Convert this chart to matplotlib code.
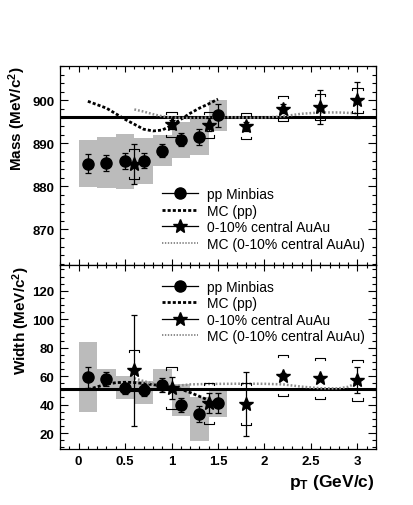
import matplotlib
matplotlib.use('Agg')
import matplotlib.pyplot as plt
import numpy as np
from matplotlib.lines import Line2D
from matplotlib.ticker import MultipleLocator, FuncFormatter

plt.rcParams['font.family'] = ['Liberation Sans', 'DejaVu Sans']
plt.rcParams['font.weight'] = 'bold'
plt.rcParams['mathtext.fontset'] = 'custom'
plt.rcParams['mathtext.rm'] = 'Liberation Sans:bold'
plt.rcParams['mathtext.it'] = 'Liberation Sans:bold'
plt.rcParams['mathtext.bf'] = 'Liberation Sans:bold'
plt.rcParams['mathtext.default'] = 'rm'

# ---------------- data ----------------
pp_pt = [0.1, 0.3, 0.5, 0.7, 0.9, 1.1, 1.3, 1.5]
pp_bin_lo = [0.0, 0.2, 0.4, 0.6, 0.8, 1.0, 1.2, 1.4]
pp_bin_hi = [0.2, 0.4, 0.6, 0.8, 1.0, 1.2, 1.4, 1.6]

pp_mass = [885.3, 885.5, 885.9, 886.0, 888.3, 890.9, 891.5, 896.5]
pp_mass_stat = [2.2, 1.8, 1.8, 1.8, 1.5, 1.5, 1.8, 2.6]
pp_mass_sys_lo = [879.9, 879.7, 879.5, 880.5, 884.7, 886.7, 887.4, 892.9]
pp_mass_sys_hi = [890.9, 891.5, 892.1, 891.2, 891.9, 894.9, 895.6, 900.2]

pp_width = [59.1, 57.9, 51.4, 50.2, 53.9, 39.9, 33.4, 40.9]
pp_width_stat = [7.4, 5.0, 4.0, 4.0, 5.0, 5.0, 5.3, 7.0]
pp_width_sys_lo = [34.5, 50.8, 43.9, 40.4, 49.7, 32.2, 14.6, 31.0]
pp_width_sys_hi = [84.2, 65.0, 59.8, 56.8, 65.0, 54.4, 45.1, 50.9]

au_pt = [0.6, 1.0, 1.4, 1.8, 2.2, 2.6, 3.0]
au_mass = [885.2, 894.4, 894.3, 894.0, 898.1, 898.5, 900.0]
au_mass_stat = [4.7, 1.0, 1.5, 1.0, 1.0, 4.0, 4.2]
au_mass_sys = [3.5, 3.0, 3.0, 3.0, 3.0, 3.0, 3.0]

au_width = [64.0, 51.6, 40.9, 40.4, 60.3, 58.4, 57.2]
au_width_stat = [39.0, 8.0, 7.0, 22.5, 2.0, 2.0, 9.0]
au_width_sys = [14.5, 14.5, 14.5, 14.7, 14.5, 14.4, 14.4]

mc_pp_mass_pt = [0.1, 0.3, 0.5, 0.7, 0.8, 0.9, 1.0, 1.1, 1.2, 1.3, 1.4, 1.5]
mc_pp_mass = [899.8, 898.2, 895.6, 893.3, 892.9, 893.1, 894.2, 895.6, 897.0, 898.2, 899.2, 900.3]

mc_au_mass_pt = [0.6, 0.7, 0.8, 0.9, 1.0, 1.2, 1.4, 1.6, 1.8, 2.0, 2.2, 2.4, 2.6, 2.8, 3.0]
mc_au_mass = [897.9, 897.4, 896.8, 896.3, 896.0, 895.9, 896.0, 896.1, 896.0, 896.0, 896.3, 896.9, 897.2, 897.2, 897.0]

mc_pp_width_pt = [0.1, 0.2, 0.3, 0.4, 0.5, 0.6, 0.7, 0.8, 0.9, 1.0, 1.1, 1.2, 1.3, 1.4, 1.45]
mc_pp_width = [50.5, 52.5, 54.3, 55.4, 55.7, 55.5, 54.8, 54.0, 53.2, 52.3, 50.8, 48.5, 45.8, 43.0, 41.5]

mc_au_width_pt = [0.6, 0.7, 0.8, 0.9, 1.0, 1.1, 1.2, 1.4, 1.6, 1.8, 2.0, 2.2, 2.4, 2.6, 2.8, 2.9, 3.0]
mc_au_width = [58.5, 56.5, 54.8, 53.5, 52.5, 53.5, 54.2, 54.5, 54.6, 54.7, 54.6, 54.2, 52.6, 51.5, 51.4, 52.5, 55.5]

pdg_mass = 896.1
pdg_width = 50.7

legend_labels = ['pp Minbias', 'MC (pp)', '0-10% central AuAu', 'MC (0-10% central AuAu)']

# ---------------- style ----------------
GRAY_BOX = '#bbbbbb'
MC_AU_COLOR = '#8c8c8c'
DASH = (0, (1.1, 0.75))
DOT = (0, (0.7, 0.8))
STAR_MS = 10.5

W, H = 414, 506
fig = plt.figure(figsize=(W / 100, H / 100), dpi=100)
left, right = 60, 376
top1, mid, bot2 = 67, 265.7, 450
ax1 = fig.add_axes([left / W, 1 - mid / H, (right - left) / W, (mid - top1) / H])
ax2 = fig.add_axes([left / W, 1 - bot2 / H, (right - left) / W, (bot2 - mid) / H])


def draw_panel(ax, pp_y, pp_stat, sys_lo, sys_hi, au_y, au_stat, au_sys,
               mc_pp_x, mc_pp_y, mc_au_x, mc_au_y, ref, ylim):
    ax.set_xlim(-0.2, 3.2)
    ax.set_ylim(*ylim)
    lo = np.array(sys_lo); hi = np.array(sys_hi)
    bl = np.array(pp_bin_lo); bh = np.array(pp_bin_hi)
    ax.bar(bl, hi - lo, bottom=lo, width=bh - bl, align='edge',
           color=GRAY_BOX, linewidth=0, zorder=1)
    ax.axhline(ref, color='k', lw=2.2, zorder=2)
    ax.plot(mc_pp_x, mc_pp_y, color='k', ls=DASH, lw=2.0, zorder=3)
    ax.plot(mc_au_x, mc_au_y, color=MC_AU_COLOR, ls=DOT, lw=1.8, zorder=3)
    ax.errorbar(pp_pt, pp_y, yerr=pp_stat, fmt='o', color='k', ms=8,
                elinewidth=0.9, capsize=2, capthick=0.9, zorder=5)
    ax.errorbar(au_pt, au_y, yerr=au_stat, fmt='*', color='k', ms=STAR_MS,
                elinewidth=0.9, capsize=2, capthick=0.9, zorder=5)
    # systematic brackets
    yr = ylim[1] - ylim[0]
    d = 0.012 * yr
    hw = 0.055
    for x, y, s in zip(au_pt, au_y, au_sys):
        ax.plot([x - hw, x - hw, x + hw, x + hw], [y + s - d, y + s, y + s, y + s - d],
                color='k', lw=0.8, zorder=4)
        ax.plot([x - hw, x - hw, x + hw, x + hw], [y - s + d, y - s, y - s, y - s + d],
                color='k', lw=0.8, zorder=4)
    ax.tick_params(which='both', direction='in', top=True, right=True,
                   labelsize=9.5, width=0.8)
    ax.tick_params(axis='y', which='major', length=5.5, pad=4)
    ax.tick_params(axis='y', which='minor', length=3)
    ax.tick_params(axis='x', which='major', length=4, pad=4)
    ax.tick_params(axis='x', which='minor', length=2)
    ax.xaxis.set_major_locator(MultipleLocator(0.5))
    ax.xaxis.set_minor_locator(MultipleLocator(0.1))
    ax.xaxis.set_major_formatter(FuncFormatter(lambda v, p: '%g' % v))
    for sp in ax.spines.values():
        sp.set_linewidth(0.9)
    handles = [
        Line2D([], [], color='k', marker='o', ms=8, lw=0.9),
        Line2D([], [], color='k', ls=DASH, lw=2.0),
        Line2D([], [], color='k', marker='*', ms=STAR_MS, lw=0.9),
        Line2D([], [], color=MC_AU_COLOR, ls=DOT, lw=1.4),
    ]
    return handles


h = draw_panel(ax1, pp_mass, pp_mass_stat, pp_mass_sys_lo, pp_mass_sys_hi,
               au_mass, au_mass_stat, au_mass_sys, mc_pp_mass_pt, mc_pp_mass,
               mc_au_mass_pt, mc_au_mass, pdg_mass, (861.8, 908))
ax1.yaxis.set_major_locator(MultipleLocator(10))
ax1.yaxis.set_minor_locator(MultipleLocator(2))
ax1.tick_params(axis='x', labelbottom=False)
ax1.legend(h, legend_labels, loc='upper left', bbox_to_anchor=(0.323, 0.39),
           frameon=False, prop={'size': 10, 'weight': 'normal'},
           handlelength=2.6, handletextpad=0.6, labelspacing=0.18,
           borderpad=0, borderaxespad=0)

h = draw_panel(ax2, pp_width, pp_width_stat, pp_width_sys_lo, pp_width_sys_hi,
               au_width, au_width_stat, au_width_sys, mc_pp_width_pt, mc_pp_width,
               mc_au_width_pt, mc_au_width, pdg_width, (8.8, 138.3))
ax2.yaxis.set_major_locator(MultipleLocator(20))
ax2.yaxis.set_minor_locator(MultipleLocator(5))
ax2.legend(h, legend_labels, loc='upper left', bbox_to_anchor=(0.323, 0.918),
           frameon=False, prop={'size': 10, 'weight': 'normal'},
           handlelength=2.6, handletextpad=0.6, labelspacing=0.18,
           borderpad=0, borderaxespad=0)

fig.text(17.5 / W, 1 - top1 / H, 'Mass (MeV/c$^2$)', rotation=90, ha='center', va='top',
         fontsize=11, fontweight='bold')
fig.text(21 / W, 1 - (mid + 1) / H, 'Width (MeV/c$^2$)', rotation=90, ha='center', va='top',
         fontsize=11, fontweight='bold')
fig.text(375 / W, 1 - 483 / H, 'p$_\\mathregular{T}$ (GeV/c)', ha='right', va='center',
         fontsize=12.5, fontweight='bold')

fig.savefig('out.png', dpi=100)
